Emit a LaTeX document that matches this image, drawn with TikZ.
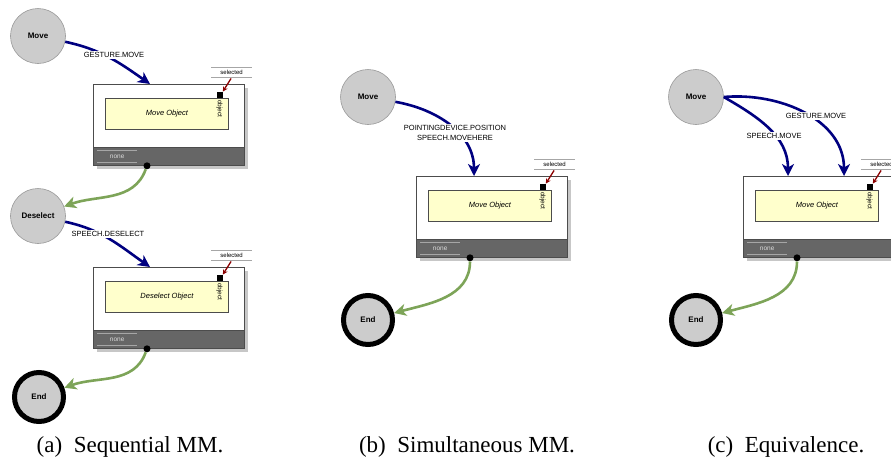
\documentclass[tikz,border=0pt]{standalone}
\usepackage{fontspec}
\setmainfont{Liberation Serif}
\setsansfont{Liberation Sans}
\usepackage{tikz}
\usetikzlibrary{
  automata,
  positioning,
  arrows.meta,
  calc, shadows
}
\definecolor{evblue}{RGB}{0,0,128}
\definecolor{flowgreen}{RGB}{125,164,88}
\definecolor{selred}{RGB}{139,0,0}
\definecolor{taskyellow}{RGB}{255,255,204}
\definecolor{bandgray}{RGB}{102,102,102}
\definecolor{stgray}{RGB}{204,204,204}
\tikzset{
  evstate/.style={
    state,
    font=\sffamily\bfseries\fontsize{8}{9}\selectfont,
    minimum size=55pt,
    draw=black!40,
    fill=stgray,
    line width=0.6pt,
  },
  endstate/.style={
    evstate,
    draw=black,
    line width=5pt,
    minimum size=49pt,
  },
  event/.style={
    ->,
    >={Stealth[length=12pt,width=12pt,inset=3.5pt]},
    evblue,
    line width=2.6pt,
  },
  flow/.style={
    event,
    flowgreen,
  },
  selarrow/.style={
    ->,
    >={Stealth[length=5pt,width=5pt]},
    selred,
    line width=1.3pt,
    shorten <=1pt,
  },
  evlabel/.style={
    font=\sffamily\fontsize{7.5}{10}\selectfont,
    fill=white,
    inner sep=1pt,
    align=center,
  },
  actbox/.style={
    draw=black!70,
    fill=white,
    line width=0.8pt,
    minimum width=151pt,
    minimum height=81pt,
    inner sep=0pt,
    anchor=north west,
    drop shadow={shadow xshift=4pt, shadow yshift=-4pt, fill=black!22, opacity=1},
  },
  band/.style={
    draw=black!70,
    fill=bandgray,
    line width=0.8pt,
    minimum width=151pt,
    minimum height=18pt,
    inner sep=0pt,
    anchor=south,
  },
  task/.style={
    draw=black!70,
    fill=taskyellow,
    line width=0.8pt,
    minimum width=123pt,
    minimum height=31pt,
    inner sep=0pt,
    font=\sffamily\itshape\fontsize{7.5}{9}\selectfont,
  },
  port/.style={
    fill=black,
    minimum size=6pt,
    inner sep=0pt,
  },
  portlabel/.style={
    font=\sffamily\fontsize{6.5}{7}\selectfont,
    rotate=-90,
    anchor=west,
    inner sep=0pt,
  },
  sellabel/.style={
    font=\sffamily\fontsize{6}{7}\selectfont,
    minimum width=40pt,
    minimum height=10pt,
    inner sep=0pt,
  },
  nonelabel/.style={
    sellabel,
    font=\sffamily\fontsize{6.5}{7}\selectfont,
    text=black!15,
    minimum height=12pt,
  },
  thinrule/.style={
    draw=black!35,
    line width=0.6pt,
  },
  outdot/.style={
    circle,
    fill=black,
    minimum size=7pt,
    inner sep=0pt,
  },
  capnode/.style={
    font=\rmfamily\fontsize{23}{27}\selectfont,
    anchor=base,
  },
}
% action box: name, top left corner, task
\newcommand{\actionbox}[3]{%
  \node[actbox] (#1) at (#2) {};
  \node[band] (#1-band) at (#1.south) {};
  \node[task, below right=14pt and 12pt of #1.north west] (#1-task) {#3};
  \node[port, above left=0pt and 6pt of #1-task.north east] (#1-port) {};
  \node[portlabel] (#1-obj) at ($(#1-port.south)+(0,2)$) {object};
  \node[sellabel, above=14pt of #1-port.north, xshift=12pt] (#1-sel) {selected};
  \draw[thinrule] (#1-sel.north west) -- (#1-sel.north east)
    (#1-sel.south west) -- (#1-sel.south east);
  \draw[selarrow] (#1-sel.south) -- (#1-port.north east);
  \node[nonelabel, right=4pt of #1-band.west] (#1-none) {none};
  \draw[thinrule] (#1-none.north west) -- (#1-none.north east)
    (#1-none.south west) -- (#1-none.south east);
  \node[outdot] (#1-dot) at ($(#1.south west)+(54,0)$) {};
}

\begin{document}
\begin{tikzpicture}[x=1pt, y=-1pt]
  \useasboundingbox (0,0) rectangle (891,459);
  \clip (0,0) rectangle (891,459);

  % (a) sequential
  \node[evstate] (moveA) at (38,36) {Move};
  \actionbox{boxA}{93,84}{Move Object}
  \node[evstate] (deselA) at (38,216) {Deselect};
  \actionbox{boxD}{93,267}{Deselect Object}
  \node[endstate] (endA) at (39,397) {End};

  \coordinate (boxA-in) at ($(boxA.north west)+(57,0)$);
  \coordinate (boxD-in) at ($(boxD.north west)+(57,0)$);
  \draw[event] (moveA) to[out=-12,in=145] (boxA-in);
  \node[evlabel] (lblA) at (114,55) {GESTURE.MOVE};
  \draw[flow] (boxA-dot) to[out=-110,in=20] (deselA);
  \draw[event] (deselA) to[out=-12,in=145] (boxD-in);
  \node[evlabel] (lblD) at (108,234) {SPEECH.DESELECT};
  \draw[flow] (boxD-dot) to[out=-110,in=20] (endA);

  % (b) simultaneous
  \node[evstate] (moveB) at (368,97) {Move};
  \actionbox{boxB}{416,176}{Move Object}
  \node[endstate] (endB) at (368,320) {End};

  \coordinate (boxB-in) at ($(boxB.north west)+(58,0)$);
  \draw[event] (moveB) to[out=-10,in=90] (boxB-in);
  \node[evlabel] (lblB) at (455,133) {POINTINGDEVICE.POSITION\\SPEECH.MOVEHERE};
  \draw[flow] (boxB-dot) to[out=-90,in=15] (endB);

  % (c) equivalence
  \node[evstate] (moveC) at (696,97) {Move};
  \actionbox{boxC}{743,176}{Move Object}
  \node[endstate] (endC) at (696,320) {End};

  \coordinate (boxC-in1) at ($(boxC.north west)+(45,0)$);
  \coordinate (boxC-in2) at ($(boxC.north west)+(101,0)$);
  \draw[event] (moveC.east) to[out=-30,in=90] (boxC-in1);
  \draw[event] (moveC.east) to[out=5,in=90] (boxC-in2);
  \node[evlabel] (lblC1) at (774,136) {SPEECH.MOVE};
  \node[evlabel] (lblC2) at (816,116) {GESTURE.MOVE};
  \draw[flow] (boxC-dot) to[out=-90,in=15] (endC);

  % captions
  \node[capnode] (capA) at (130,452) {(a)\enspace Sequential MM.};
  \node[capnode] (capB) at (467,452) {(b)\enspace Simultaneous MM.};
  \node[capnode] (capC) at (786,452) {(c)\enspace Equivalence.};
\end{tikzpicture}
\end{document}
